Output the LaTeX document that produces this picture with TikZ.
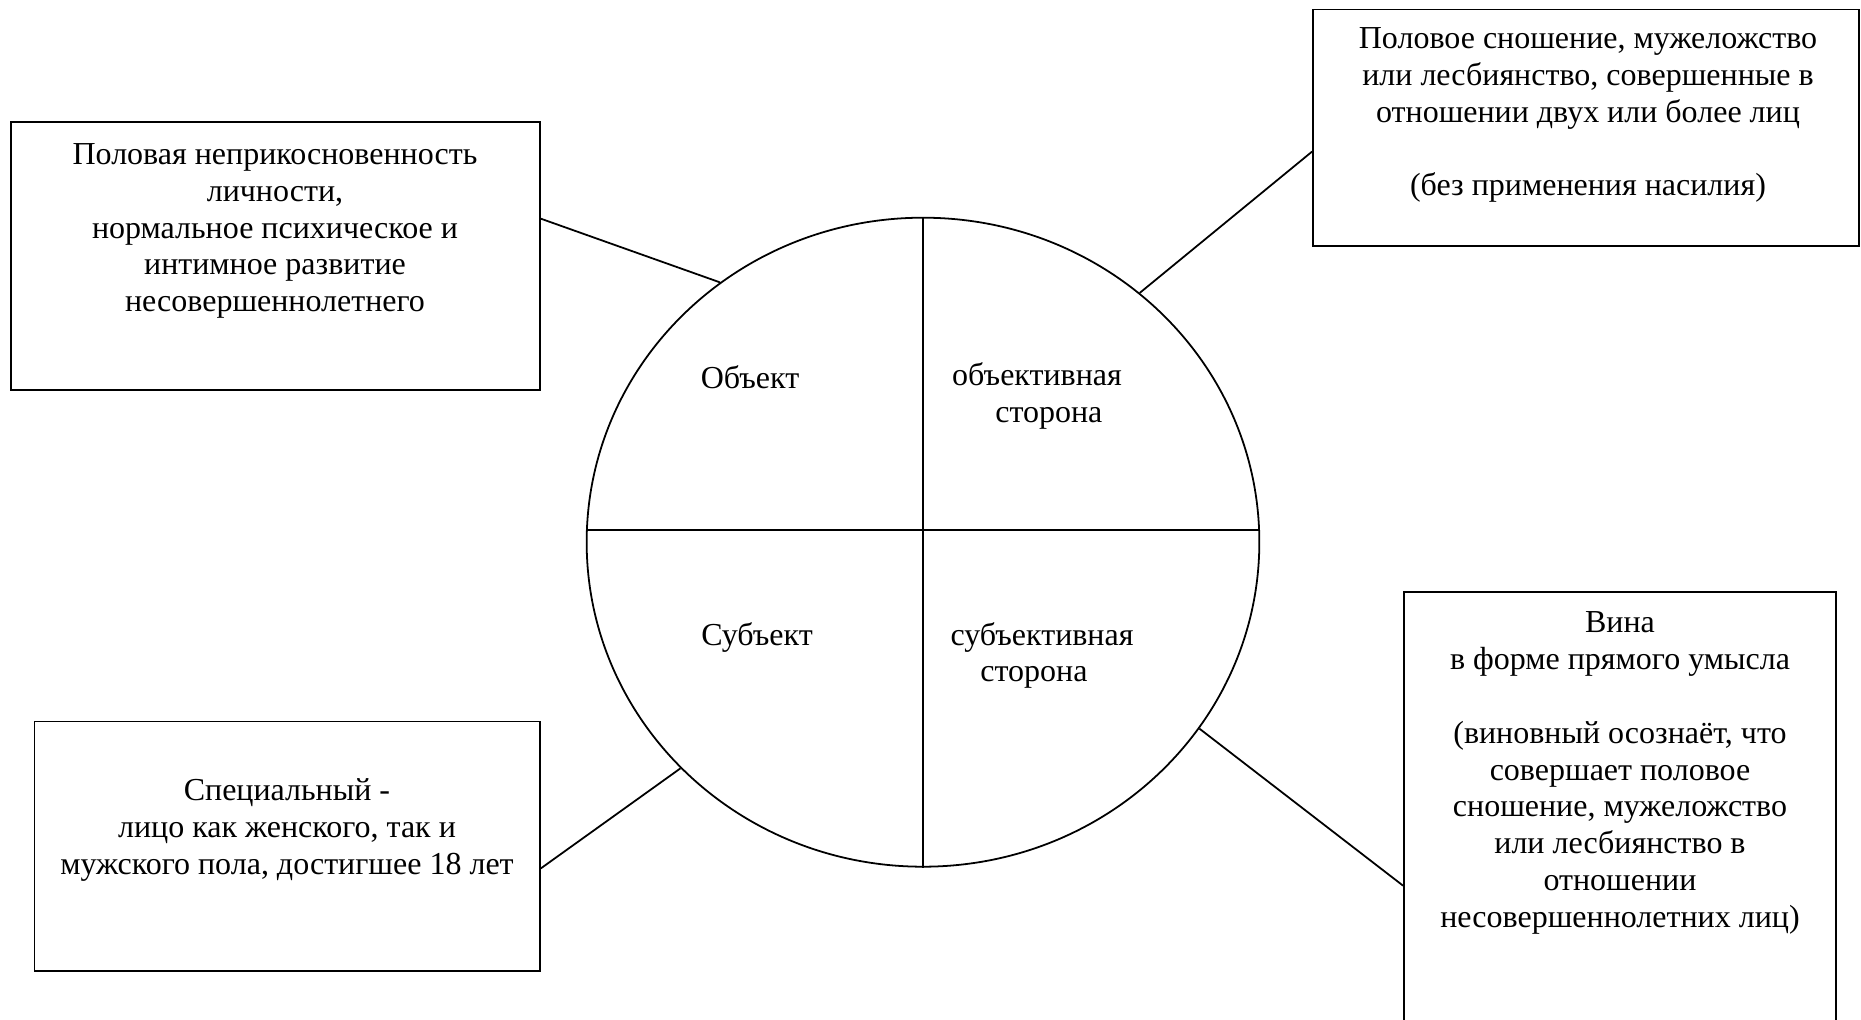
\documentclass[tikz,border=0pt]{standalone}
\usepackage{fontspec}
\setmainfont{Liberation Serif}
\usetikzlibrary{shapes.geometric}
\begin{document}
\begin{tikzpicture}[
	x=0.45pt, y=-0.45pt,
	box/.style={
		draw, line width=0.8pt, rectangle, inner sep=0pt
	},
	txt/.style={font=\fontsize{14.4}{16.6}\selectfont, align=center, inner sep=0pt},
	link/.style={line width=0.8pt},
	]
	
	\useasboundingbox (0,0) rectangle (1861,1020);
	
	\node[draw, line width=0.8pt, ellipse, inner sep=0pt,
	minimum width=302.7pt, minimum height=292.05pt] (circ) at (923,542.2) {};
	\draw[link] (circ.north) -- (circ.south);
	\draw[link] (circ.west |- 0,530) -- (circ.east |- 0,530);
	
	\node[txt] (obj)      at (750,377)    {Объект};
	\node[txt] (objside)  at (1037,396)   {объективная\\\hspace*{10.7pt}сторона};
	\node[txt] (subj)     at (757,637.5)  {Субъект};
	\node[txt] (subjside) at (1042,655.5) {субъективная\\сторона\hspace*{7.2pt}};
	
	\node[box, minimum width=238.05pt, minimum height=120.6pt] (tlbox) at (275.5,256)    {};
	\node[box, minimum width=245.7pt,  minimum height=106.3pt] (trbox) at (1586,127.6)   {};
	\node[box, minimum width=227.5pt,  minimum height=112.1pt] (blbox) at (287.25,846.15) {};
	\node[box, minimum width=194.4pt,  minimum height=197.1pt] (brbox) at (1620,811)     {};
	
	\node[txt] (tltxt) at (275,231) {Половая неприкосновенность\\личности,\\нормальное психическое и\\интимное развитие\\несовершеннолетнего};
	\node[txt] (trtxt) at (1588,115) {Половое сношение, мужеложство\\или лесбиянство, совершенные в\\отношении двух или более лиц\\[\baselineskip](без применения насилия)};
	\node[txt] (bltxt) at (287,830) {Специальный -\\лицо как женского, так и\\мужского пола, достигшее 18 лет};
	\node[txt] (brtxt) at (1620,773) {Вина\\в форме прямого умысла\\[\baselineskip](виновный осознаёт, что\\совершает половое\\сношение, мужеложство\\или лесбиянство в\\отношении\\несовершеннолетних лиц)};
	
	\draw[link] (tlbox.8.4)   -- (circ.128.4);
	\draw[link] (circ.49.4)   -- (trbox.185.6);
	\draw[link] (blbox.355.8) -- (circ.223.8);
	\draw[link] (circ.326)    -- (brbox.199.6);
	
\end{tikzpicture}
\end{document}
